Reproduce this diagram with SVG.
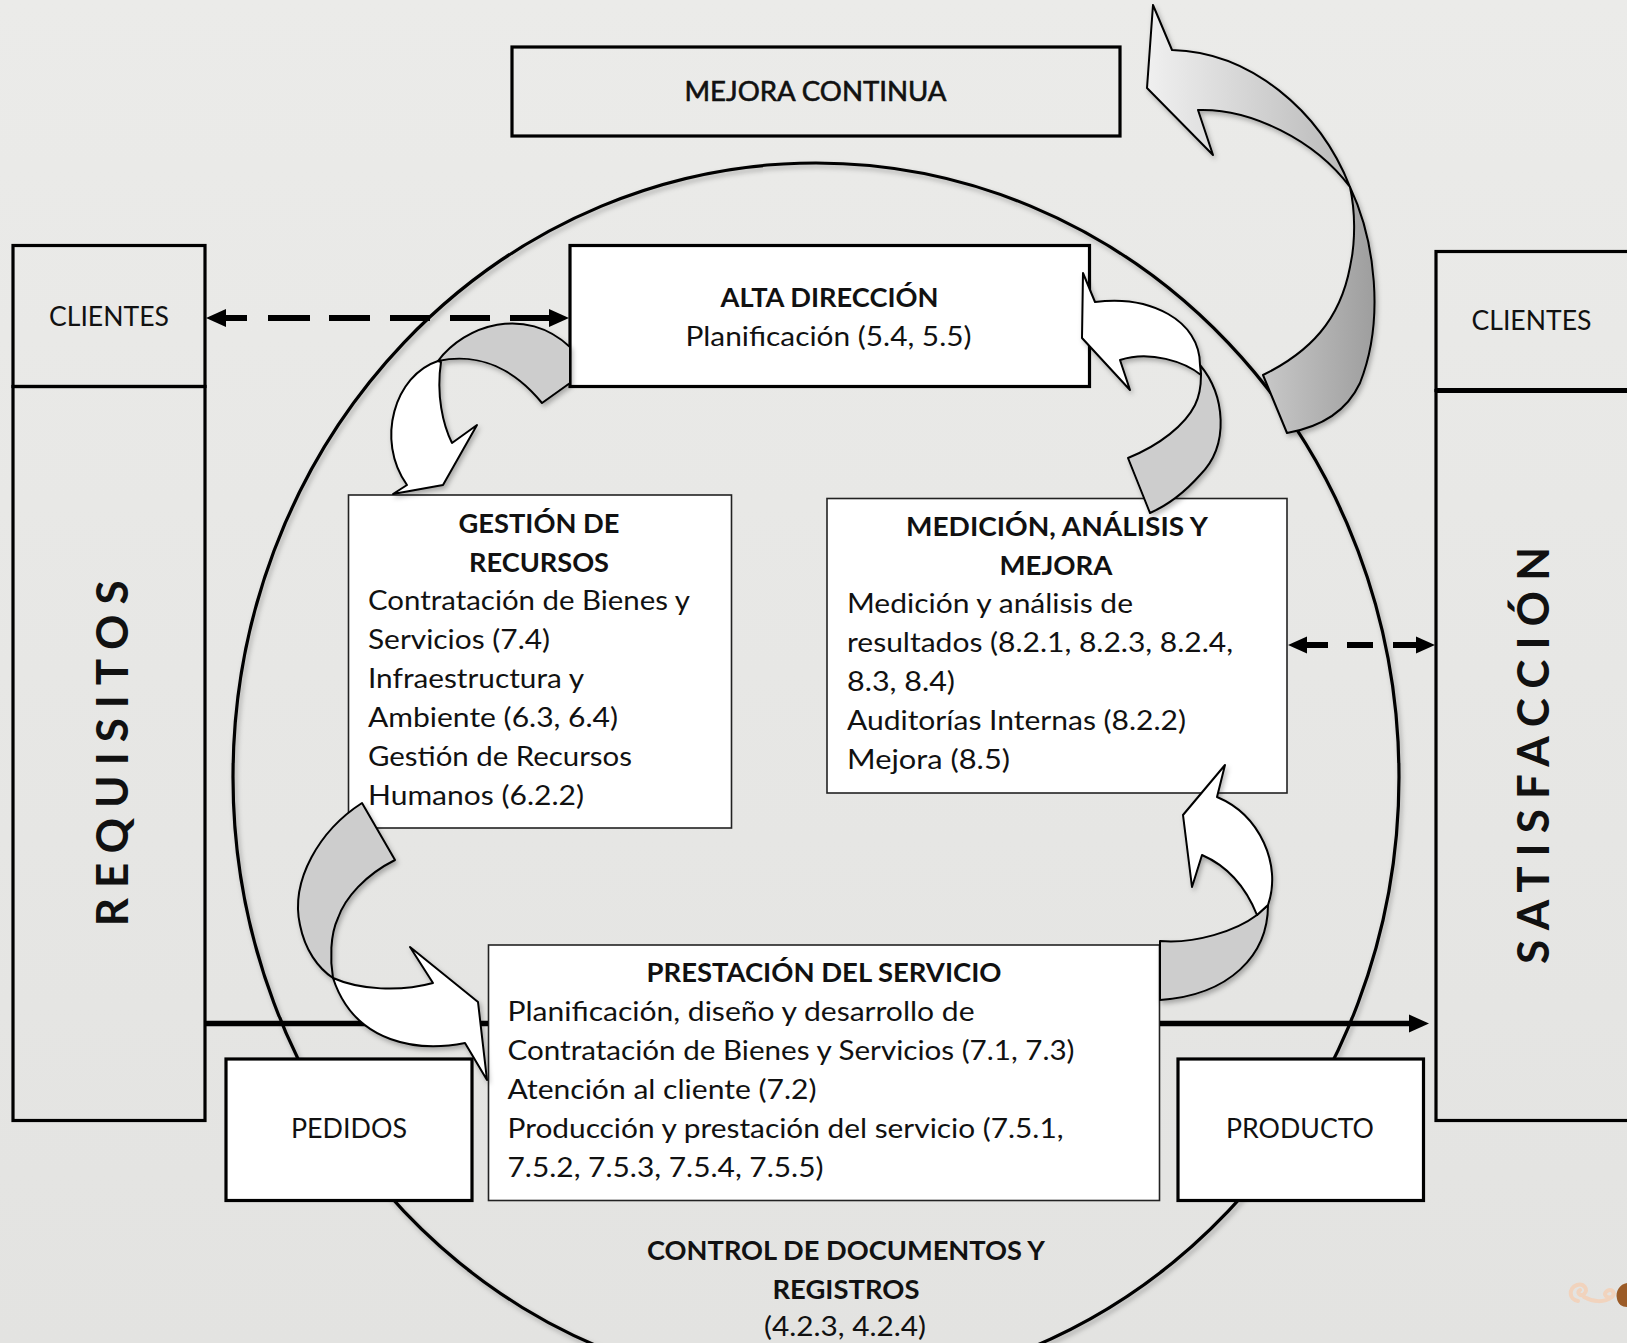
<svg xmlns="http://www.w3.org/2000/svg" width="1627" height="1343" viewBox="0 0 1627 1343">
<defs>
<linearGradient id="bg" x1="0" y1="0" x2="0" y2="1"><stop offset="0" stop-color="#ebebe9"/><stop offset="1" stop-color="#e3e3e1"/></linearGradient>
<linearGradient id="gA1" gradientUnits="userSpaceOnUse" x1="1150" y1="0" x2="1352" y2="0"><stop offset="0" stop-color="#efefef"/><stop offset="1" stop-color="#b8b8b8"/></linearGradient>
<linearGradient id="gA2" gradientUnits="userSpaceOnUse" x1="1262" y1="0" x2="1380" y2="0"><stop offset="0" stop-color="#c8c8c8"/><stop offset="1" stop-color="#9c9c9c"/></linearGradient>
<filter id="sh" x="-5%" y="-5%" width="115%" height="115%"><feDropShadow dx="2" dy="3" stdDeviation="2.5" flood-color="#000" flood-opacity="0.28"/></filter>
<style>
.t{font-family:Lato,"Open Sans","Liberation Sans",sans-serif;font-size:27px;fill:#111}
.b{font-weight:bold}
.s{font-size:26px}
.box{stroke:#000;stroke-width:3.2}
.thin{fill:#fff;stroke:#222;stroke-width:1.6}
.w{fill:#fff}
.n{fill:none}
.arw{stroke:#000;stroke-width:2;stroke-linejoin:round}
.g{fill:#cdcdcd}
.dash{stroke:#000;stroke-width:6;fill:none}
.vt{font-family:Lato,"Open Sans","Liberation Sans",sans-serif;font-weight:bold;fill:#111}
</style>
</defs>
<rect x="0" y="0" width="1627" height="1343" fill="url(#bg)"/>

<g id="ciclo">
<ellipse cx="816" cy="777" rx="583" ry="614" fill="none" stroke="#000" stroke-width="3.2" filter="url(#sh)"/>
</g>

<g id="mejora-continua">
<rect class="box n" x="512" y="47" width="608" height="89"/>
<text class="t" x="815.5" y="101" text-anchor="middle" font-size="28" stroke="#111" stroke-width="0.6" textLength="262" lengthAdjust="spacingAndGlyphs">MEJORA CONTINUA</text>
</g>

<g id="clientes-izq">
<rect class="box n" x="13" y="245.5" width="192" height="141"/>
<text class="t s" x="109" y="326" text-anchor="middle" textLength="120" lengthAdjust="spacingAndGlyphs">CLIENTES</text>
</g>

<g id="requisitos">
<rect class="box n" x="13" y="386.5" width="192" height="734"/>
<text class="vt" transform="translate(127.5,753.3) rotate(-90)" x="0" y="0" font-size="44" text-anchor="middle" textLength="346" lengthAdjust="spacing">REQUISITOS</text>
</g>

<g id="clientes-der">
<rect class="box n" x="1436" y="251.5" width="210" height="139"/>
<text class="t s" x="1531.5" y="330" text-anchor="middle" textLength="120" lengthAdjust="spacingAndGlyphs">CLIENTES</text>
</g>

<g id="satisfaccion">
<rect class="box n" x="1436" y="390.5" width="210" height="730"/>
<line x1="1436" y1="390.5" x2="1627" y2="390.5" stroke="#000" stroke-width="5"/>
<text class="vt" transform="translate(1549,755.4) rotate(-90)" x="0" y="0" font-size="44" text-anchor="middle" textLength="417" lengthAdjust="spacing">SATISFACCIÓN</text>
</g>

<g id="alta-direccion">
<rect class="box w" x="570" y="245.5" width="519.5" height="141"/>
<text class="t b" x="829.5" y="307" text-anchor="middle" textLength="218" lengthAdjust="spacingAndGlyphs">ALTA DIRECCIÓN</text>
<text class="t" x="828.5" y="345.5" text-anchor="middle" textLength="286" lengthAdjust="spacingAndGlyphs">Planificación (5.4, 5.5)</text>
</g>

<g id="gestion-recursos">
<rect class="thin" x="348.5" y="495" width="383" height="333"/>
<text class="t b" x="539" y="533" text-anchor="middle" textLength="161" lengthAdjust="spacingAndGlyphs">GESTIÓN DE</text>
<text class="t b" x="539" y="571.5" text-anchor="middle" textLength="140" lengthAdjust="spacingAndGlyphs">RECURSOS</text>
<text class="t" x="368" y="610" textLength="322" lengthAdjust="spacingAndGlyphs">Contratación de Bienes y</text>
<text class="t" x="368" y="649" textLength="182" lengthAdjust="spacingAndGlyphs">Servicios (7.4)</text>
<text class="t" x="368" y="688" textLength="216" lengthAdjust="spacingAndGlyphs">Infraestructura y</text>
<text class="t" x="368" y="727" textLength="250" lengthAdjust="spacingAndGlyphs">Ambiente (6.3, 6.4)</text>
<text class="t" x="368" y="766" textLength="264" lengthAdjust="spacingAndGlyphs">Gestión de Recursos</text>
<text class="t" x="368" y="805" textLength="216" lengthAdjust="spacingAndGlyphs">Humanos (6.2.2)</text>
</g>

<g id="medicion-analisis-mejora">
<rect class="thin" x="827" y="498.5" width="460" height="294.5"/>
<text class="t b" x="1057" y="535.5" text-anchor="middle" textLength="302" lengthAdjust="spacingAndGlyphs">MEDICIÓN, ANÁLISIS Y</text>
<text class="t b" x="1056" y="574.5" text-anchor="middle" textLength="113" lengthAdjust="spacingAndGlyphs">MEJORA</text>
<text class="t" x="847" y="613" textLength="286" lengthAdjust="spacingAndGlyphs">Medición y análisis de</text>
<text class="t" x="847" y="652" textLength="386" lengthAdjust="spacingAndGlyphs">resultados (8.2.1, 8.2.3, 8.2.4,</text>
<text class="t" x="847" y="691" textLength="108" lengthAdjust="spacingAndGlyphs">8.3, 8.4)</text>
<text class="t" x="847" y="730" textLength="339" lengthAdjust="spacingAndGlyphs">Auditorías Internas (8.2.2)</text>
<text class="t" x="847" y="769" textLength="163" lengthAdjust="spacingAndGlyphs">Mejora (8.5)</text>
</g>

<g id="prestacion-servicio">
<rect class="thin" x="488.5" y="945" width="671" height="255.5"/>
<text class="t b" x="824" y="981.5" text-anchor="middle" textLength="355" lengthAdjust="spacingAndGlyphs">PRESTACIÓN DEL SERVICIO</text>
<text class="t" x="507.5" y="1020.5" textLength="467" lengthAdjust="spacingAndGlyphs">Planificación, diseño y desarrollo de</text>
<text class="t" x="507.5" y="1059.5" textLength="567" lengthAdjust="spacingAndGlyphs">Contratación de Bienes y Servicios (7.1, 7.3)</text>
<text class="t" x="507.5" y="1098.5" textLength="309" lengthAdjust="spacingAndGlyphs">Atención al cliente (7.2)</text>
<text class="t" x="507.5" y="1137.5" textLength="556" lengthAdjust="spacingAndGlyphs">Producción y prestación del servicio (7.5.1,</text>
<text class="t" x="507.5" y="1176.5" textLength="316" lengthAdjust="spacingAndGlyphs">7.5.2, 7.5.3, 7.5.4, 7.5.5)</text>
</g>

<g id="pedidos">
<rect class="box w" x="226" y="1059" width="246" height="141.5"/>
<text class="t s" x="349" y="1138" text-anchor="middle" textLength="116" lengthAdjust="spacingAndGlyphs">PEDIDOS</text>
</g>

<g id="producto">
<rect class="box w" x="1178" y="1059" width="245.5" height="141.5"/>
<text class="t s" x="1300" y="1138" text-anchor="middle" textLength="148" lengthAdjust="spacingAndGlyphs">PRODUCTO</text>
</g>

<g id="control-documentos">
<text class="t b" x="846" y="1260" text-anchor="middle" textLength="398" lengthAdjust="spacingAndGlyphs">CONTROL DE DOCUMENTOS Y</text>
<text class="t b" x="846" y="1299" text-anchor="middle" textLength="147" lengthAdjust="spacingAndGlyphs">REGISTROS</text>
<text class="t" x="845" y="1336" text-anchor="middle" textLength="162" lengthAdjust="spacingAndGlyphs">(4.2.3, 4.2.4)</text>
</g>

<g id="ornamento">
<path d="M1578,1301 c-9,-1 -10,-13 -1,-16 c7,-2 12,5 7,9 c-4,3 -8,-2 -4,-4 M1584,1297 c9,5 20,6 28,0 c4,-4 0,-9 -5,-6 c-4,3 -1,8 5,6" stroke="#f1d3bd" stroke-width="4" fill="none" stroke-linecap="round"/>
<path d="M1627,1283 c-7,1 -12,8 -10,16 c1,5 5,8 10,8 z" fill="#9b5b27"/>
</g>

<g id="connectors">
<path d="M205,1023.5 H488 M1160,1023.5 H1412" stroke="#000" stroke-width="5.5" fill="none"/>
<polygon points="1429,1023.5 1409,1014.5 1409,1032.5" fill="#000"/>

<path class="dash" d="M222,318 H247 M268,318 H310 M329,318 H370 M390,318 H430 M450,318 H490 M510,318 H553"/>
<polygon points="206,318 226,309 226,327" fill="#000"/>
<polygon points="569,318 549,309 549,327" fill="#000"/>

<path class="dash" d="M1302,645 H1328 M1347,645 H1373 M1393,645 H1420"/>
<polygon points="1288,645 1307,636.5 1307,653.5" fill="#000"/>
<polygon points="1435,645 1416,636.5 1416,653.5" fill="#000"/>

<g filter="url(#sh)">
<path class="arw" fill="url(#gA2)" d="M1350,187 C1375,240 1385,320 1360,383 C1345,415 1315,428 1287,433 L1263,375 C1310,352 1340,320 1350,267 C1356,240 1355,210 1350,187 Z"/>
<path class="arw" fill="url(#gA1)" d="M1350,187 C1320,110 1250,52 1172,50 L1153,5 L1147,88 L1213,155 L1198,110 C1250,108 1315,140 1350,187 Z"/>
</g>

<g filter="url(#sh)">
<path class="arw g" d="M438,361 C465,325 525,305 570,347 L570,383 L542,403 C515,370 480,352 438,361 Z"/>
<path class="arw w" d="M438,361 C395,375 375,440 407,485 L393,494 L443,485 L477,425 L452,443 C443,425 436,395 441,362 Z"/>
</g>

<g filter="url(#sh)">
<path class="arw g" d="M1200,365 C1225,395 1230,445 1200,475 C1185,492 1168,505 1150,513 L1128,458 C1160,445 1185,425 1195,405 C1200,395 1201,385 1201,375 Z"/>
<path class="arw w" d="M1095,302 C1150,295 1200,320 1200,365 L1201,375 C1185,362 1150,350 1120,360 L1130,390 L1082,338 L1083,273 Z"/>
</g>

<g filter="url(#sh)">
<path class="arw g" d="M362,803 C320,830 290,880 300,925 C305,950 318,968 333,978 C330,960 330,935 338,918 C345,898 365,875 395,860 Z"/>
<path class="arw w" d="M333,978 C360,990 400,992 433,983 L410,947 L478,1002 L487,1080 L465,1043 C420,1052 355,1045 333,978 Z"/>
</g>

<g filter="url(#sh)">
<path class="arw g" d="M1160,941 C1195,944 1236,931 1257,915 L1268,905 C1268,955 1230,995 1160,1000 Z"/>
<path class="arw w" d="M1268,905 C1282,865 1260,815 1217,797 L1225,765 L1183,815 L1192,887 L1202,855 C1225,865 1245,885 1257,915 Z"/>
</g>
</g>
</svg>
